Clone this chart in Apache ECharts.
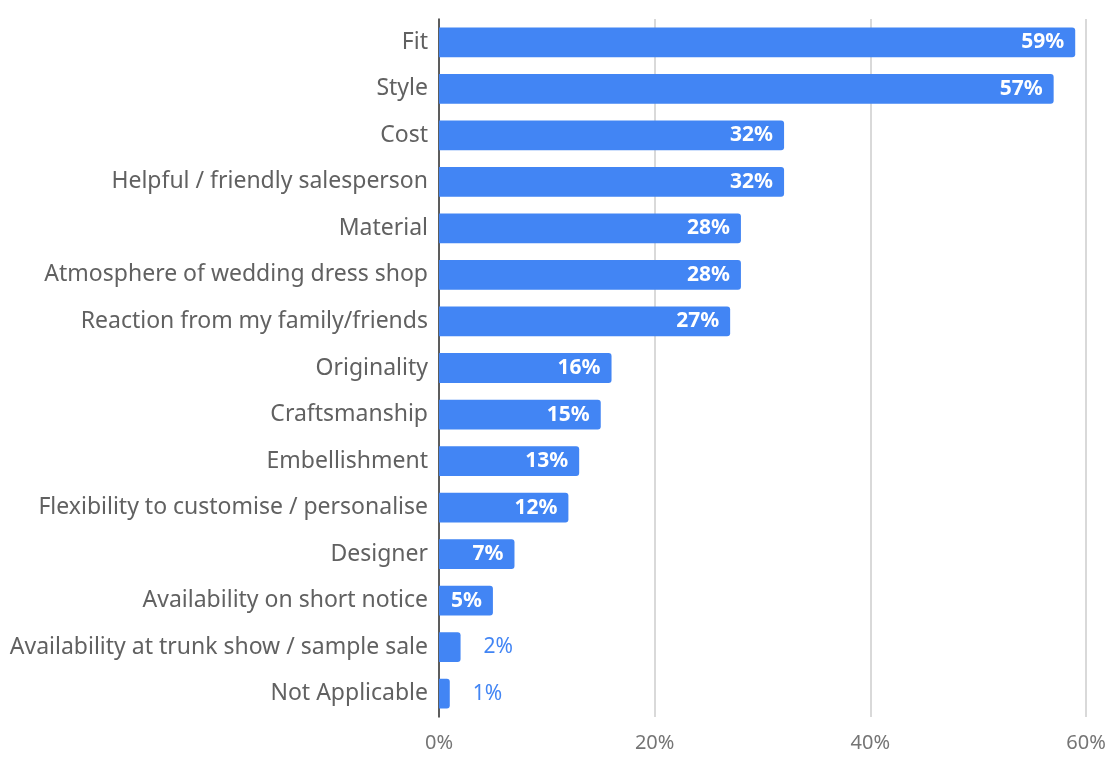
<!DOCTYPE html>
<html>
<head>
<meta charset="utf-8">
<script src="https://cdn.jsdelivr.net/npm/echarts@6/dist/echarts.min.js"></script>
<style>
  html, body { margin: 0; padding: 0; background: #fff; }
  #chart { width: 1110px; height: 757px; }
</style>
</head>
<body>
<div id="chart"></div>
<script>
// Factors ranked by share of respondents (percent)
const categories = [
  'Fit',
  'Style',
  'Cost',
  'Helpful / friendly salesperson',
  'Material',
  'Atmosphere of wedding dress shop',
  'Reaction from my family/friends',
  'Originality',
  'Craftsmanship',
  'Embellishment',
  'Flexibility to customise / personalise',
  'Designer',
  'Availability on short notice',
  'Availability at trunk show / sample sale',
  'Not Applicable'
];
const percentages = [59, 57, 32, 32, 28, 28, 27, 16, 15, 13, 12, 7, 5, 2, 1];
const xTicks = [0, 20, 40, 60];

const BLUE = '#4285f4';
const FONT = '"Noto Sans", "Open Sans", sans-serif';
// Short bars cannot hold their label, so it sits after the bar instead
const INSIDE_MIN = 4;

const barData = percentages.map(v => ({
  value: v,
  label: v >= INSIDE_MIN
    ? { position: 'insideRight', distance: 11, color: '#fff', fontWeight: 'bold' }
    : { position: 'right', distance: 23, color: BLUE, fontWeight: 'normal' }
}));

const chart = echarts.init(document.getElementById('chart'), null, { renderer: 'canvas' });
chart.setOption({
  animation: false,
  backgroundColor: '#fff',
  grid: { left: 439, right: 24, top: 19, bottom: 40, containLabel: false },
  xAxis: {
    type: 'value',
    min: xTicks[0],
    max: xTicks[xTicks.length - 1],
    interval: 20,
    axisLine: { show: false },
    axisTick: { show: false },
    splitLine: { show: true, lineStyle: { color: '#cccccc', width: 1.5 } },
    axisLabel: {
      formatter: v => v + '%',
      color: '#757575',
      fontSize: 20,
      fontFamily: FONT,
      margin: 16
    }
  },
  yAxis: {
    type: 'category',
    inverse: true,
    data: categories,
    axisLine: { show: true, lineStyle: { color: '#333', width: 1.5 } },
    axisTick: { show: false },
    axisLabel: {
      color: '#616161',
      fontSize: 23,
      fontFamily: FONT,
      margin: 11
    }
  },
  series: [{
    type: 'bar',
    data: barData,
    barCategoryGap: '36%',
    itemStyle: { color: BLUE, borderRadius: [0, 3, 3, 0] },
    label: {
      show: true,
      formatter: p => p.value + '%',
      fontSize: 21,
      fontFamily: FONT
    }
  }]
});
</script>
</body>
</html>
